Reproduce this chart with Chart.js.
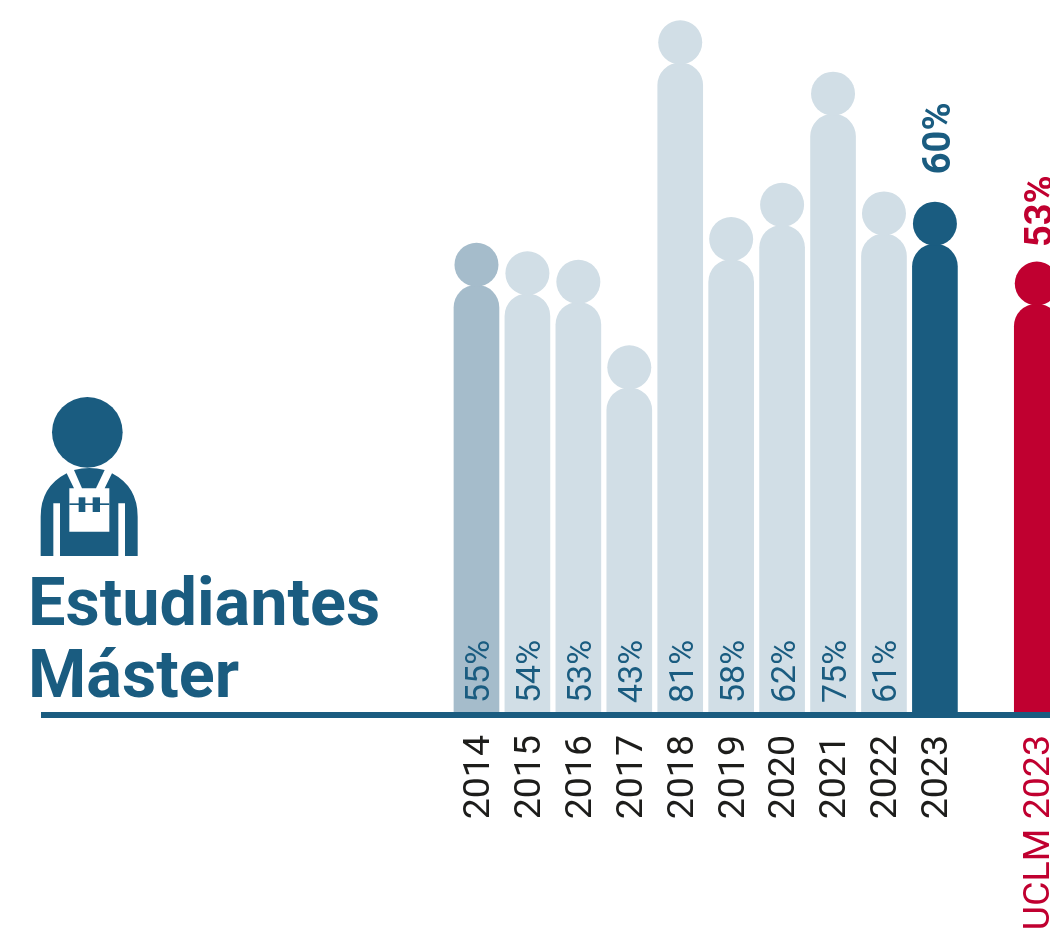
<!DOCTYPE html>
<html>
<head>
<meta charset="utf-8">
<title>Estudiantes Máster</title>
<script src="https://cdn.jsdelivr.net/npm/chart.js@4"></script>
<style>
  html, body { margin: 0; padding: 0; background: #fff; overflow: hidden; width: 1050px; height: 934px; }
  #wrap { position: relative; width: 1050px; height: 934px; overflow: hidden; }
  #myChart { position: absolute; left: 0; top: 0; }
  #icon { position: absolute; left: 20px; top: 380px; }
  #title { position: absolute; left: 28px; top: 566px; font: 700 66.6px/72px Roboto, sans-serif; color: #1a5c80; }
</style>
</head>
<body>
<div id="wrap">
  <canvas id="myChart"></canvas>
  <!-- viewBox is the icon at 3x -->
  <svg id="icon" width="380" height="350" viewBox="0 0 1140 1050" fill="#1a5c80">
    <circle cx="202" cy="157" r="106"/>
    <path d="M162 270 Q208 258 254 270 L228 325 H186 Z"/>
    <path d="M140 280 L162 325 H148 V455 H268 V325 H254 L276 280 Q353 320 353 410 V528 H315 V370 H295 V528 H120 V370 H100 V528 H62 V410 Q62 320 140 280 Z"/>
    <rect x="148" y="370" width="120" height="5"/>
    <rect x="176" y="352" width="20" height="44"/>
    <rect x="218" y="352" width="22" height="44"/>
  </svg>
  <div id="title">Estudiantes<br>Máster</div>
</div>

<script>
const categories = ['2014', '2015', '2016', '2017', '2018', '2019', '2020', '2021', '2022', '2023', '', 'UCLM 2023'];
const values = [55, 54, 53, 43, 81, 58, 62, 75, 61, 59.8, null, 52.8];
const barColors = ['#a5bccb', '#d1dee6', '#d1dee6', '#d1dee6', '#d1dee6', '#d1dee6', '#d1dee6', '#d1dee6', '#d1dee6', '#1a5c80', '#1a5c80', '#c00030'];
const tickColors = ['#1d1d1b', '#1d1d1b', '#1d1d1b', '#1d1d1b', '#1d1d1b', '#1d1d1b', '#1d1d1b', '#1d1d1b', '#1d1d1b', '#1d1d1b', '#1d1d1b', '#c00030'];

const blue = '#1a5c80';
const baselineLeft = 41;

// round head on top of each bar, percent text, and the long base line
const peoplePlugin = {
  id: 'people',
  afterDatasetsDraw(chart) {
    const ctx = chart.ctx;
    const meta = chart.getDatasetMeta(0);
    const base = chart.scales.y.bottom;

    ctx.save();
    ctx.fillStyle = blue;
    ctx.fillRect(baselineLeft, base, chart.width - baselineLeft, 6);

    meta.data.forEach((bar, i) => {
      if (values[i] === null) return;
      ctx.fillStyle = barColors[i];
      ctx.beginPath();
      ctx.arc(bar.x, bar.y - 20.5, 22, 0, Math.PI * 2);
      ctx.fill();

      // last two bars carry a bold label above the head
      const outside = i >= 9;
      const labelY = outside ? bar.y - (i === 9 ? 70 : 57) : base - 9;
      ctx.save();
      ctx.textAlign = 'left';
      ctx.textBaseline = 'middle';
      ctx.fillStyle = outside ? barColors[i] : blue;
      ctx.font = outside ? '700 38px Roboto' : '400 34px Roboto';
      ctx.translate(bar.x + (outside ? 6 : 4), labelY);
      ctx.rotate(-Math.PI / 2);
      ctx.fillText(Math.round(values[i]) + '%', 0, 0);
      ctx.restore();
    });
    ctx.restore();
  }
};

const canvas = document.getElementById('myChart');
canvas.width = 1106;
canvas.height = 934;

new Chart(canvas.getContext('2d'), {
  type: 'bar',
  data: {
    labels: categories,
    datasets: [{
      data: values,
      backgroundColor: barColors,
      barThickness: 45,
      borderRadius: { topLeft: 23, topRight: 23, bottomLeft: 0, bottomRight: 0 },
      borderSkipped: 'bottom'
    }]
  },
  options: {
    responsive: false,
    animation: false,
    layout: { padding: { left: 451, right: 29, top: 3, bottom: 0 } },
    plugins: { legend: { display: false }, tooltip: { enabled: false } },
    scales: {
      x: {
        grid: { display: false, drawTicks: false },
        border: { display: false },
        afterFit(scale) { scale.height = 222; },
        ticks: {
          autoSkip: false,
          minRotation: 90,
          maxRotation: 90,
          padding: 23,
          labelOffset: 3,
          color: tickColors,
          font: { family: 'Roboto', size: 37.5 }
        }
      },
      y: {
        display: false,
        min: 5.1,
        max: 88
      }
    }
  },
  plugins: [peoplePlugin]
});
</script>
</body>
</html>
